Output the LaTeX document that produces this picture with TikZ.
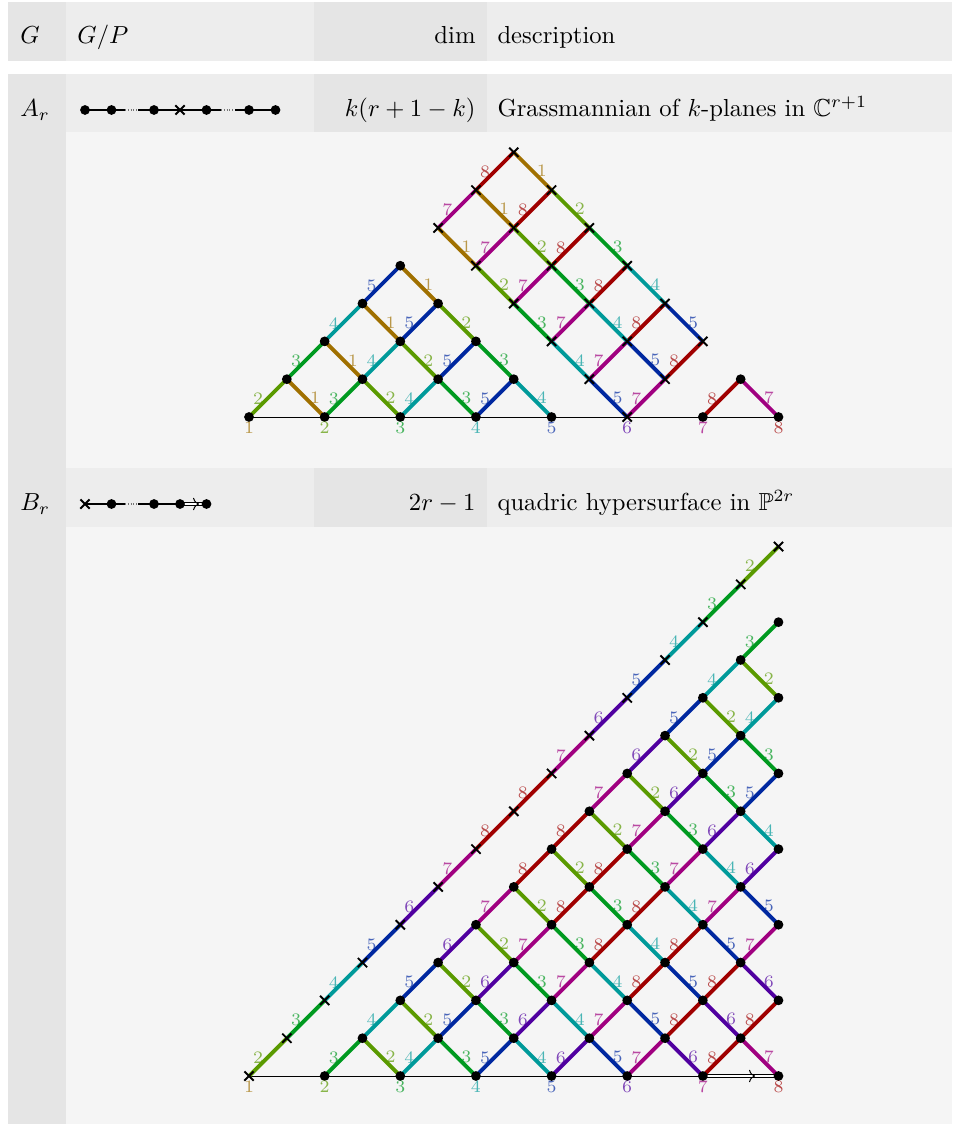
\documentclass[tikz,border=0pt]{standalone}
\usepackage{amssymb}
\usetikzlibrary{shapes.misc,arrows.meta,decorations.markings}
\pgfdeclarelayer{panels}
\pgfdeclarelayer{edges}
\pgfsetlayers{panels,edges,main}
\definecolor{c1}{HTML}{A07000}
\definecolor{c2}{HTML}{5A9A00}
\definecolor{c3}{HTML}{009A20}
\definecolor{c4}{HTML}{009A9A}
\definecolor{c5}{HTML}{0028A0}
\definecolor{c6}{HTML}{5000A0}
\definecolor{c7}{HTML}{A00080}
\definecolor{c8}{HTML}{A00000}
\definecolor{cellA}{HTML}{E5E5E5}
\definecolor{cellB}{HTML}{EDEDED}
\definecolor{cellC}{HTML}{F5F5F5}
\tikzset{
  x=0.4pt,y=-0.4pt,
  panel/.style={fill=#1,draw=none},
  dotnode/.style={circle,fill=black,draw=none,inner sep=0pt,outer sep=0pt,minimum size=3.9pt},
  crossnode/.style={cross out,draw=black,line width=.75pt,inner sep=0pt,outer sep=0pt,minimum size=3.7pt},
  edgeline/.style={draw=#1,line width=1.55pt},
  weightlabel/.style={text=#1,text opacity=.7,font=\scriptsize,inner sep=0pt},
  headtext/.style={anchor=base west,inner sep=0pt,scale=.985},
  headright/.style={anchor=base east,inner sep=0pt,scale=.985},
  baseline rule/.style={draw=black,line width=.4pt},
  dynline/.style={draw=black,line width=.45pt},
  dyndots/.style={draw=black,line width=.45pt,dash pattern=on .4pt off .7pt,opacity=.5},
  doublebond/.style={draw=black,line width=.4pt,double=white,double distance=.8pt,
    postaction={decorate},
    decoration={markings,mark=at position #1 with {\arrow[line width=.4pt]{Computer Modern Rightarrow[width=5pt,length=2.4pt]}}}},
}
% place a lattice node
\newcommand{\latnode}[5]{\node[#5] (#1-#3-#4) at ({249+37.82*#3},{#2-37.82*#4}) {};}
% n up-right edges starting from lattice point (a,b)
\newcommand{\upedges}[4]{%
  \foreach \j in {1,...,#4}{%
    \pgfmathtruncatemacro{\ea}{#2+\j-1}%
    \pgfmathtruncatemacro{\eb}{#3+\j-1}%
    \pgfmathtruncatemacro{\fa}{\ea+1}%
    \pgfmathtruncatemacro{\fb}{\eb+1}%
    \pgfmathtruncatemacro{\tval}{(\ea+\eb)/2}%
    \pgfmathtruncatemacro{\lab}{\tval<=6 ? \tval+2 : 15-\tval}%
    \begin{pgfonlayer}{edges}
      \draw[edgeline=c\lab] (#1-\ea-\eb.center) -- (#1-\fa-\fb.center);
    \end{pgfonlayer}
    \path (#1-\ea-\eb.center) -- (#1-\fa-\fb.center)
      node[midway,xshift=-3.9pt,yshift=-.3pt,weightlabel=c\lab] (#1-u-\ea-\eb) {\lab};
  }}
% n down-right edges starting from lattice point (a,b)
\newcommand{\downedges}[4]{%
  \foreach \j in {1,...,#4}{%
    \pgfmathtruncatemacro{\ea}{#2+\j-1}%
    \pgfmathtruncatemacro{\eb}{#3-\j+1}%
    \pgfmathtruncatemacro{\fa}{\ea+1}%
    \pgfmathtruncatemacro{\fb}{\eb-1}%
    \pgfmathtruncatemacro{\lab}{(\ea-\eb)/2+1}%
    \begin{pgfonlayer}{edges}
      \draw[edgeline=c\lab] (#1-\ea-\eb.center) -- (#1-\fa-\fb.center);
    \end{pgfonlayer}
    \path (#1-\ea-\eb.center) -- (#1-\fa-\fb.center)
      node[midway,xshift=3.7pt,weightlabel=c\lab] (#1-d-\ea-\eb) {\lab};
  }}
% numbers under the base line
\newcommand{\baselabels}[1]{%
  \foreach \k in {1,...,8}{%
    \pgfmathtruncatemacro{\ka}{2*\k-2}%
    \node[weightlabel=c\k,anchor=center,yshift=-4.4pt] (#1-b-\k) at (#1-\ka-0.center) {\k};
  }}
\begin{document}
\begin{tikzpicture}
\useasboundingbox (0,0) rectangle (952,1124);
\begin{pgfonlayer}{panels}
  % header row
  \fill[panel=cellA] (8,2) rectangle (66,61);
  \fill[panel=cellB] (66,2) rectangle (314,61);
  \fill[panel=cellA] (314,2) rectangle (487,61);
  \fill[panel=cellB] (487,2) rectangle (952,61);
  % left column
  \fill[panel=cellA] (8,74) rectangle (66,1124);
  % A row
  \fill[panel=cellB] (66,74) rectangle (314,132);
  \fill[panel=cellA] (314,74) rectangle (487,132);
  \fill[panel=cellB] (487,74) rectangle (952,132);
  \fill[panel=cellC] (66,132) rectangle (952,468);
  % B row
  \fill[panel=cellB] (66,468) rectangle (314,527);
  \fill[panel=cellA] (314,468) rectangle (487,527);
  \fill[panel=cellB] (487,468) rectangle (952,527);
  \fill[panel=cellC] (66,527) rectangle (952,1124);
\end{pgfonlayer}

% header texts
\node[headtext] (hG) at (20,43.8) {$G$};
\node[headtext] (hGP) at (77,43.8) {$G/P$};
\node[headright] (hdim) at (476,43.8) {dim};
\node[headtext] (hdesc) at (497,43.8) {description};

\node[headtext] (tA) at (20,116.5) {$A_r$};
\node[headright] (dA) at (476,116.5) {$k(r+1-k)$};
\node[headtext] (gA) at (497,116.5) {Grassmannian of $k$-planes in $\mathbb{C}^{r+1}$};

\node[headtext] (tB) at (20,510.5) {$B_r$};
\node[headright] (dB) at (476,510.5) {$2r-1$};
\node[headtext] (gB) at (497,510.5) {quadric hypersurface in $\mathbb{P}^{2r}$};

% Dynkin diagram A
\node[dotnode] (da1) at (85,110) {};
\node[dotnode] (da2) at (111.5,110) {};
\coordinate (da2a) at (125,110);
\coordinate (da2b) at (138,110);
\node[dotnode] (da3) at (154,110) {};
\node[crossnode] (da4) at (180,110) {};
\node[dotnode] (da5) at (206.5,110) {};
\coordinate (da5a) at (221,110);
\coordinate (da5b) at (235,110);
\node[dotnode] (da6) at (249,110) {};
\node[dotnode] (da7) at (275.5,110) {};
\begin{pgfonlayer}{edges}
  \draw[dynline] (da1.center) -- (da2.center) -- (da2a);
  \draw[dyndots] (da2a) -- (da2b);
  \draw[dynline] (da2b) -- (da3.center) -- (da4.center) -- (da5.center) -- (da5a);
  \draw[dyndots] (da5a) -- (da5b);
  \draw[dynline] (da5b) -- (da6.center) -- (da7.center);
\end{pgfonlayer}

% Dynkin diagram B
\node[crossnode] (db1) at (85,504) {};
\node[dotnode] (db2) at (111.5,504) {};
\coordinate (db2a) at (125,504);
\coordinate (db2b) at (138,504);
\node[dotnode] (db3) at (154,504) {};
\node[dotnode] (db4) at (180,504) {};
\node[dotnode] (db5) at (206.5,504) {};
\begin{pgfonlayer}{edges}
  \draw[dynline] (db1.center) -- (db2.center) -- (db2a);
  \draw[dyndots] (db2a) -- (db2b);
  \draw[dynline] (db2b) -- (db3.center) -- (db4.center);
  \draw[doublebond=.72] (db4.center) -- (db5.center);
\end{pgfonlayer}

% ---------- diagram A: lattice nodes
\foreach \b in {0,...,4}{
  \pgfmathtruncatemacro{\amax}{(8-2*\b)/2}
  \foreach \m in {0,...,\amax}{
    \pgfmathtruncatemacro{\a}{\b+2*\m}
    \latnode{pa}{417}{\a}{\b}{dotnode}
  }}
\latnode{pa}{417}{12}{0}{dotnode}
\latnode{pa}{417}{13}{1}{dotnode}
\latnode{pa}{417}{14}{0}{dotnode}
\foreach \i in {0,...,5}{
  \foreach \j in {0,1,2}{
    \pgfmathtruncatemacro{\a}{10-\i+\j}
    \pgfmathtruncatemacro{\b}{\i+\j}
    \latnode{pa}{417}{\a}{\b}{crossnode}
  }}
% diagram A: base line
\begin{pgfonlayer}{edges}
  \draw[baseline rule] (pa-0-0.center) -- (pa-14-0.center);
\end{pgfonlayer}
% diagram A: triangle
\upedges{pa}{0}{0}{4}
\upedges{pa}{2}{0}{3}
\upedges{pa}{4}{0}{2}
\upedges{pa}{6}{0}{1}
\downedges{pa}{1}{1}{1}
\downedges{pa}{2}{2}{2}
\downedges{pa}{3}{3}{3}
\downedges{pa}{4}{4}{4}
% diagram A: rectangle
\foreach \i in {0,...,5}{
  \pgfmathtruncatemacro{\a}{10-\i}
  \upedges{pa}{\a}{\i}{2}
}
\downedges{pa}{5}{5}{5}
\downedges{pa}{6}{6}{5}
\downedges{pa}{7}{7}{5}
% diagram A: small peak
\upedges{pa}{12}{0}{1}
\downedges{pa}{13}{1}{1}
\baselabels{pa}

% ---------- diagram B: lattice nodes
\foreach \k in {0,...,14}{
  \latnode{pb}{1076}{\k}{\k}{crossnode}
}
\foreach \m in {0,...,6}{
  \pgfmathtruncatemacro{\jmax}{12-2*\m}
  \foreach \j in {0,...,\jmax}{
    \pgfmathtruncatemacro{\a}{2+2*\m+\j}
    \latnode{pb}{1076}{\a}{\j}{dotnode}
  }}
% diagram B: base line
\begin{pgfonlayer}{edges}
  \draw[baseline rule] (pb-0-0.center) -- (pb-12-0.center);
  \draw[doublebond=.69] (pb-12-0.center) -- (pb-14-0.center);
\end{pgfonlayer}
% diagram B: edges
\upedges{pb}{0}{0}{14}
\foreach \m in {0,...,5}{
  \pgfmathtruncatemacro{\a}{2+2*\m}
  \pgfmathtruncatemacro{\n}{12-2*\m}
  \upedges{pb}{\a}{0}{\n}
}
\foreach \a/\b/\n in {3/1/1,4/2/2,5/3/3,6/4/4,7/5/5,8/6/6,9/7/5,10/8/4,11/9/3,12/10/2,13/11/1}{
  \downedges{pb}{\a}{\b}{\n}
}
\baselabels{pb}
\end{tikzpicture}
\end{document}
